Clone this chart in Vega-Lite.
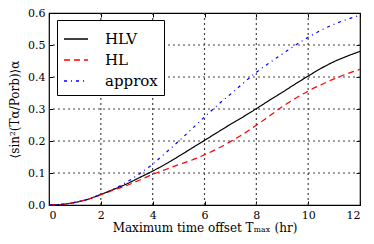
{
  "$schema": "https://vega.github.io/schema/vega-lite/v6.json",
  "autosize": "none",
  "width": 311,
  "height": 192,
  "padding": {"left": 49, "top": 13, "right": 14, "bottom": 39},
  "background": "white",
  "datasets": {
    "curves": [
      {"x":0,"HLV":0,"HL":0,"approx":0},
      {"x":0.5,"HLV":0.002,"HL":0.002,"approx":0.002},
      {"x":1,"HLV":0.008,"HL":0.008,"approx":0.008},
      {"x":1.5,"HLV":0.018,"HL":0.018,"approx":0.018},
      {"x":2,"HLV":0.033,"HL":0.032,"approx":0.033},
      {"x":2.5,"HLV":0.049,"HL":0.047,"approx":0.05},
      {"x":3,"HLV":0.066,"HL":0.061,"approx":0.072},
      {"x":3.5,"HLV":0.086,"HL":0.078,"approx":0.098},
      {"x":4,"HLV":0.106,"HL":0.096,"approx":0.128},
      {"x":4.5,"HLV":0.128,"HL":0.111,"approx":0.163},
      {"x":5,"HLV":0.152,"HL":0.126,"approx":0.199},
      {"x":5.5,"HLV":0.177,"HL":0.14,"approx":0.237},
      {"x":6,"HLV":0.202,"HL":0.157,"approx":0.275},
      {"x":6.5,"HLV":0.227,"HL":0.176,"approx":0.312},
      {"x":7,"HLV":0.252,"HL":0.198,"approx":0.346},
      {"x":7.5,"HLV":0.276,"HL":0.222,"approx":0.381},
      {"x":8,"HLV":0.301,"HL":0.249,"approx":0.415},
      {"x":8.5,"HLV":0.327,"HL":0.278,"approx":0.444},
      {"x":9,"HLV":0.352,"HL":0.307,"approx":0.472},
      {"x":9.5,"HLV":0.378,"HL":0.333,"approx":0.499},
      {"x":10,"HLV":0.403,"HL":0.356,"approx":0.524},
      {"x":10.5,"HLV":0.427,"HL":0.376,"approx":0.546},
      {"x":11,"HLV":0.448,"HL":0.394,"approx":0.565},
      {"x":11.5,"HLV":0.465,"HL":0.41,"approx":0.58},
      {"x":12,"HLV":0.48,"HL":0.424,"approx":0.593}
    ],
    "xgrid": [{"gx": 2}, {"gx": 4}, {"gx": 6}, {"gx": 8}, {"gx": 10}],
    "ygrid": [{"gy": 0.1}, {"gy": 0.2}, {"gy": 0.3}, {"gy": 0.4}, {"gy": 0.5}]
  },
  "layer": [
    {
      "data": {"name": "xgrid"},
      "mark": {"type": "rule", "color": "#444444", "strokeWidth": 1.2, "strokeDash": [2, 3], "opacity": 1},
      "encoding": {
        "x": {"field": "gx", "type": "quantitative", "scale": {"domain": [0, 12], "nice": false}, "axis": null}
      }
    },
    {
      "data": {"name": "ygrid"},
      "mark": {"type": "rule", "color": "#444444", "strokeWidth": 1.2, "strokeDash": [2, 3], "opacity": 1},
      "encoding": {
        "y": {"field": "gy", "type": "quantitative", "scale": {"domain": [0, 0.6], "nice": false}, "axis": null}
      }
    },
    {
      "data": {"name": "curves"},
      "transform": [{"fold": ["HLV", "HL", "approx"], "as": ["series", "y"]}],
      "mark": {"type": "line", "strokeWidth": 1.2, "interpolate": "monotone"},
      "encoding": {
        "x": {"field": "x", "type": "quantitative", "scale": {"domain": [0, 12], "nice": false},
              "axis": {"orient": "bottom", "values": [0,2,4,6,8,10,12], "title": "Maximum time offset Tₘₐₓ (hr)", "grid": false, "format": "d"}},
        "y": {"field": "y", "type": "quantitative", "scale": {"domain": [0, 0.6], "nice": false},
              "axis": {"orient": "left", "values": [0,0.1,0.2,0.3,0.4,0.5,0.6], "title": "⟨sin²(Tα/Porb)⟩α", "grid": false, "format": ".1f"}},
        "color": {"field": "series", "type": "nominal", "sort": ["HLV","HL","approx"],
                  "scale": {"domain": ["HLV","HL","approx"], "range": ["#000000","#ff0000","#0000ff"]},
                  "legend": {"title": null}},
        "strokeDash": {"field": "series", "type": "nominal", "sort": ["HLV","HL","approx"],
                  "scale": {"domain": ["HLV","HL","approx"], "range": [[1,0],[6,4],[3,4,1,4]]},
                  "legend": {"title": null}}
      }
    },
    {
      "data": {"name": "curves"},
      "transform": [{"fold": ["HLV", "HL", "approx"], "as": ["series", "y"]}],
      "mark": {"type": "line", "opacity": 0},
      "encoding": {
        "x": {"field": "x", "type": "quantitative", "scale": {"domain": [0, 12], "nice": false},
              "axis": {"orient": "top", "values": [0,2,4,6,8,10,12], "labels": false, "title": null, "grid": false, "domain": false}},
        "y": {"field": "y", "type": "quantitative", "scale": {"domain": [0, 0.6], "nice": false},
              "axis": {"orient": "right", "values": [0,0.1,0.2,0.3,0.4,0.5,0.6], "labels": false, "title": null, "grid": false, "domain": false}},
        "detail": {"field": "series"}
      }
    }
  ],
  "resolve": {"axis": {"x": "independent", "y": "independent"}},
  "config": {
    "font": "DejaVu Serif, Liberation Serif, serif",
    "view": {"stroke": "#000000", "strokeWidth": 1.2},
    "axis": {
      "domain": false,
      "tickColor": "#000000",
      "tickSize": -4,
      "tickWidth": 1,
      "labelPadding": 8,
      "labelFont": "DejaVu Serif, Liberation Serif, serif",
      "labelFontSize": 11,
      "labelColor": "#000000",
      "titleFont": "DejaVu Serif, Liberation Serif, serif",
      "titleFontSize": 12,
      "titleFontWeight": "normal",
      "titleColor": "#000000"
    },
    "axisX": {"titlePadding": 2},
    "axisY": {"titlePadding": 6},
    "legend": {
      "orient": "none",
      "legendX": 8,
      "legendY": 7,
      "fillColor": "white",
      "strokeColor": "#000000",
      "strokeWidth": 1,
      "cornerRadius": 0,
      "padding": 6,
      "symbolType": "stroke",
      "symbolSize": 576,
      "symbolStrokeWidth": 1.3,
      "labelFont": "DejaVu Serif, Liberation Serif, serif",
      "labelFontSize": 15,
      "labelColor": "#000000",
      "labelOffset": 16,
      "rowPadding": 0
    }
  }
}
